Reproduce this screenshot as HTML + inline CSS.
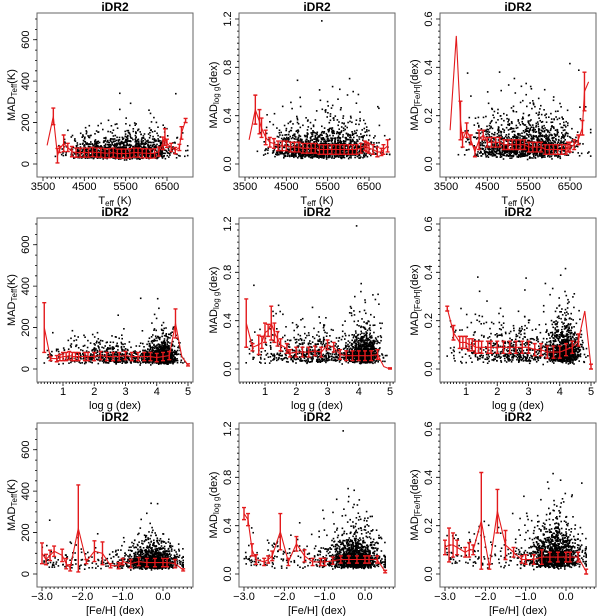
<!DOCTYPE html>
<html><head><meta charset="utf-8"><style>
html,body{margin:0;padding:0;background:#fff}
svg{display:block;font-family:"Liberation Sans",sans-serif}
</style></head><body>
<svg id="fig" width="600" height="616" viewBox="0 0 600 616"></svg>
<script>
// ---- binned median series (x, median) and error half-widths ----
const teffBins=[3600,3750,3850,3900,4000,4100,4200,4300,4400,4500,4600,4700,4800,4900,5000,5100,5200,5300,5400,5500,5600,5700,5800,5900,6000,6100,6200,6300,6400,6450,6500,6600,6700,6800,6850,6950];
const teffMadT=[90,230,40,70,100,80,60,55,55,55,55,58,55,55,52,52,55,50,50,50,52,55,55,52,52,50,52,60,100,130,100,80,65,80,150,210];
const teffErrT=[0,40,35,15,40,20,25,22,22,22,22,22,22,22,22,22,22,22,22,22,22,22,22,22,22,22,22,22,30,40,20,20,15,15,30,10];
const teffMadG=[0.20,0.45,0.35,0.30,0.22,0.18,0.17,0.15,0.15,0.15,0.14,0.14,0.14,0.13,0.13,0.13,0.13,0.12,0.12,0.12,0.12,0.12,0.12,0.12,0.12,0.12,0.12,0.13,0.15,0.14,0.13,0.12,0.10,0.10,0.12,0.15];
const teffErrG=[0,0.12,0.1,0.08,0.06,0.04,0.04,0.04,0.04,0.04,0.04,0.04,0.04,0.04,0.04,0.04,0.04,0.04,0.04,0.04,0.04,0.04,0.04,0.04,0.04,0.04,0.04,0.04,0.04,0.04,0.04,0.04,0.04,0.03,0.04,0.05];
const teffMadF=[0.14,0.53,0.18,0.10,0.14,0.10,0.05,0.10,0.12,0.09,0.09,0.09,0.09,0.08,0.08,0.08,0.08,0.08,0.08,0.07,0.07,0.07,0.07,0.06,0.06,0.06,0.06,0.06,0.06,0.07,0.07,0.08,0.10,0.15,0.30,0.34];
const teffErrF=[0,0,0.08,0.03,0.03,0.02,0.02,0.04,0.02,0.02,0.02,0.02,0.02,0.02,0.02,0.02,0.02,0.02,0.02,0.02,0.02,0.02,0.02,0.02,0.02,0.02,0.02,0.02,0.02,0.02,0.02,0.02,0.02,0.03,0.08,0];
const loggBins=[0.4,0.6,0.8,0.9,1.0,1.1,1.2,1.3,1.4,1.5,1.7,1.8,2.0,2.2,2.4,2.6,2.8,3.0,3.2,3.4,3.6,3.8,4.0,4.2,4.4,4.6,4.8,5.0];
const loggMadT=[200,50,50,55,60,60,65,60,60,60,60,60,60,65,60,60,60,65,60,60,60,60,55,60,65,220,60,20];
const loggErrT=[120,10,15,15,20,20,20,20,20,20,20,20,20,20,20,20,20,20,20,20,20,20,20,20,20,70,0,5];
const loggMadG=[0.38,0.18,0.20,0.22,0.30,0.32,0.38,0.30,0.25,0.20,0.17,0.13,0.14,0.14,0.14,0.15,0.14,0.20,0.18,0.12,0.11,0.11,0.11,0.11,0.11,0.12,0.02,0.00];
const loggErrG=[0.2,0.03,0.08,0.05,0.08,0.05,0.14,0.08,0.06,0.05,0.04,0.03,0.04,0.04,0.04,0.04,0.04,0.04,0.04,0.04,0.04,0.04,0.04,0.04,0.04,0.04,0,0.01];
const loggMadF=[0.25,0.15,0.11,0.11,0.11,0.10,0.10,0.09,0.09,0.09,0.09,0.09,0.09,0.09,0.09,0.09,0.09,0.09,0.08,0.08,0.07,0.07,0.07,0.08,0.09,0.12,0.24,0.01];
const loggErrF=[0.01,0.03,0.025,0.025,0.025,0.025,0.025,0.025,0.025,0.025,0.025,0.025,0.025,0.025,0.025,0.025,0.025,0.025,0.025,0.025,0.025,0.025,0.025,0.025,0.025,0.025,0,0.01];
const fehBins=[-3.0,-2.9,-2.8,-2.7,-2.5,-2.4,-2.3,-2.1,-1.9,-1.7,-1.5,-1.3,-1.1,-1.0,-0.8,-0.6,-0.4,-0.2,0.0,0.1,0.3,0.5];
const fehMadT=[100,70,90,110,90,50,30,220,60,110,100,40,40,60,50,60,55,55,55,55,50,20];
const fehErrT=[50,25,25,25,30,25,15,210,10,50,55,10,15,15,20,20,20,20,20,20,20,5];
const fehMadG=[0.50,0.45,0.20,0.12,0.10,0.12,0.15,0.35,0.10,0.25,0.15,0.10,0.10,0.10,0.11,0.12,0.12,0.12,0.12,0.12,0.12,0.02];
const fehErrG=[0.05,0.05,0.05,0.04,0.03,0.03,0.04,0.15,0.03,0.06,0.05,0.03,0.03,0.03,0.03,0.03,0.03,0.03,0.03,0.03,0.03,0.01];
const fehMadF=[0.11,0.12,0.12,0.11,0.09,0.10,0.10,0.22,0.03,0.26,0.12,0.09,0.06,0.06,0.06,0.07,0.07,0.07,0.07,0.07,0.07,0.01];
const fehErrF=[0.03,0.07,0.05,0.03,0.02,0.03,0.02,0.2,0.01,0.09,0.06,0.02,0.015,0.02,0.02,0.03,0.02,0.02,0.02,0.02,0.02,0.01];
const yTicksT=[0,200,400,600], yTicksG=[0.0,0.4,0.8,1.2], yTicksF=[0.0,0.2,0.4,0.6];
const xTicksT=[3500,4500,5500,6500], xTicksG=[1,2,3,4,5], xTicksF=[-3.0,-2.0,-1.0,0.0];

const NS="http://www.w3.org/2000/svg", svg=document.getElementById('fig');
function mk(t,a,p){const e=document.createElementNS(NS,t);for(const k in a)e.setAttribute(k,a[k]);(p||svg).appendChild(e);return e;}

// background star cloud (seeded deterministic texture)
let s=12345;function rnd(){s=(s*1103515245+12345)%2147483648;return s/2147483648;}
function gau(){return Math.sqrt(-2*Math.log(rnd()+1e-9))*Math.cos(6.2832*rnd());}
const stars=[];
for(let i=0;i<1400;i++){let r=rnd(),t,g,f;
 if(r<0.6){t=5700+gau()*450;g=4.15+gau()*0.25;f=-0.2+gau()*0.25;}
 else if(r<0.92){t=4800+gau()*350;g=2.5+gau()*0.7;f=-0.35+gau()*0.4;}
 else{t=4200+rnd()*2500;g=0.5+rnd()*4.2;f=-3+rnd()*2.2;}
 t=Math.max(3800,Math.min(7000,t));g=Math.max(0.4,Math.min(4.9,g));f=Math.max(-3.05,Math.min(0.5,f));
 const k=Math.exp(gau()*0.55);
 stars.push([t,g,f,15+45*k*Math.exp(gau()*0.3),0.03+0.1*k*Math.exp(gau()*0.35),0.015+0.06*k*Math.exp(gau()*0.35)]);}

const cols=[0,202,403], rows=[0,205,410];
const xs=[
 {lo:3500,hi:6500,p0:43,p1:167,ticks:xTicksT,minor:100,fmt:v=>v,label:['T','eff',' (K)'],bins:teffBins,idx:0},
 {lo:1,hi:5,p0:63,p1:188,ticks:xTicksG,minor:0.1,fmt:v=>v,label:['log g (dex)'],bins:loggBins,idx:1},
 {lo:-3,hi:0,p0:42,p1:163,ticks:xTicksF,minor:0.1,fmt:v=>(v<0?'\u2212':'')+Math.abs(v).toFixed(1),label:['[Fe/H] (dex)'],bins:fehBins,idx:2}];
const ys=[
 {max:700,ticks:yTicksT,minor:50,fmt:v=>v,sub:'Teff',unit:'(K)',idx:3,ser:[teffMadT,loggMadT,fehMadT],err:[teffErrT,loggErrT,fehErrT]},
 {max:1.2,ticks:yTicksG,minor:0.05,fmt:v=>v.toFixed(1),sub:'log g',unit:'(dex)',idx:4,ser:[teffMadG,loggMadG,fehMadG],err:[teffErrG,loggErrG,fehErrG]},
 {max:0.6,ticks:yTicksF,minor:0.025,fmt:v=>v.toFixed(1),sub:'[Fe/H]',unit:'(dex)',idx:5,ser:[teffMadF,loggMadF,fehMadF],err:[teffErrF,loggErrF,fehErrF]}];

for(let r=0;r<3;r++)for(let c=0;c<3;c++){
 const X=xs[r],Y=ys[c],ox=cols[c],oy=rows[r];
 const g=mk('g',{});
 const fx=v=>ox+X.p0+(v-X.lo)*(X.p1-X.p0)/(X.hi-X.lo);
 const fy=v=>oy+164-v/Y.max*145;
 const L=ox+37,R=ox+193,T=oy+13,B=oy+177;
 const pts=mk('g',{fill:'#000'},g);
 for(const st of stars){const px=fx(st[X.idx]),py=fy(st[Y.idx]);if(px<L+1||px>R-1||py<T+1||py>B-1)continue;
  mk('rect',{x:(px-0.8).toFixed(1),y:(py-0.8).toFixed(1),width:1.6,height:1.6},pts);}
 const ser=Y.ser[r],er=Y.err[r];const red='#e31a1c';
 const line=mk('polyline',{points:X.bins.map((b,i)=>fx(b).toFixed(1)+','+fy(ser[i]).toFixed(1)).join(' '),fill:'none',stroke:red,'stroke-width':1.1},g);
 
 X.bins.forEach((b,i)=>{const e=er[i];if(!e)return;const x=fx(b),y1=fy(Math.max(0,ser[i]-e)),y2=fy(ser[i]+e);
  const eb=mk('path',{d:`M${x},${y1}V${y2}M${x-2},${y1}H${x+2}M${x-2},${y2}H${x+2}`,stroke:red,'stroke-width':1.4,fill:'none'},g);
  });
 const box=mk('rect',{x:L,y:T,width:R-L,height:B-T,fill:'none',stroke:'#666','stroke-width':1},g);
 
 const tt=mk('text',{x:(L+R)/2,y:oy+11,'text-anchor':'middle','font-size':12,'font-weight':'bold'},g);tt.textContent='iDR2';
 
 let d='';for(let v=X.lo-1;v<=X.hi+1.2;v+=X.minor){const x=fx(v);if(x<L+1||x>R-1)continue;d+=`M${x.toFixed(1)},${B}v2`;}
 X.ticks.forEach(v=>{d+=`M${fx(v)},${B}v4`;const t=mk('text',{x:fx(v),y:B+13,'text-anchor':'middle','font-size':11},g);t.textContent=X.fmt(v);
  });
 mk('path',{d,stroke:'#000','stroke-width':0.8},g);
 const xl=mk('text',{x:(L+R)/2,y:B+27,'text-anchor':'middle','font-size':11},g);
 
 if(X.label.length>1){xl.appendChild(document.createTextNode('T'));const sb=mk('tspan',{'font-size':8,dy:2},xl);sb.textContent='eff';const s2=mk('tspan',{dy:-2},xl);s2.textContent=' (K)';}else xl.textContent=X.label[0];
 let dy='';for(let v=0;v<=Y.max+1e-9;v+=Y.minor){dy+=`M${L},${fy(v).toFixed(1)}h-2`;}
 Y.ticks.forEach(v=>{const y=fy(v);dy+=`M${L},${y}h-4`;const t=mk('text',{x:ox+29,y:y,'text-anchor':'middle','font-size':11,transform:`rotate(-90 ${ox+29} ${y})`},g);t.textContent=Y.fmt(v);
  });
 mk('path',{d:dy,stroke:'#000','stroke-width':0.8},g);
 const yc=(T+B)/2,yx=ox+15;
 const yl=mk('text',{x:yx,y:yc,'text-anchor':'middle','font-size':11,transform:`rotate(-90 ${yx} ${yc})`},g);
 
 yl.appendChild(document.createTextNode('MAD'));const sb=mk('tspan',{'font-size':8,dy:2},yl);sb.textContent=Y.sub;const s2=mk('tspan',{dy:-2},yl);s2.textContent=Y.unit;
}
</script>
</body></html>
